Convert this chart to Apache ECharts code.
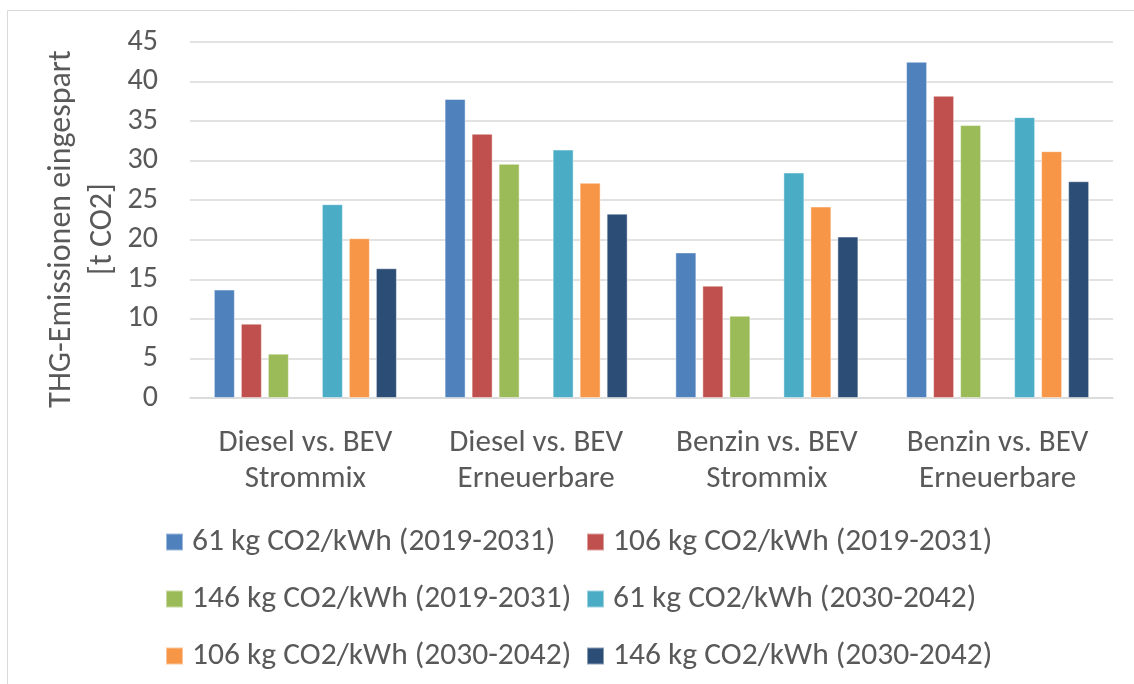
<!DOCTYPE html>
<html>
<head>
<meta charset="utf-8">
<script src="https://cdn.jsdelivr.net/npm/echarts@6/dist/echarts.min.js"></script>
<style>
html,body{margin:0;padding:0;background:#fff;}
#chart{width:1134px;height:684px;}
</style>
</head>
<body>
<div id="chart"></div>
<script>
const categories = ['Diesel vs. BEV\nStrommix', 'Diesel vs. BEV\nErneuerbare', 'Benzin vs. BEV\nStrommix', 'Benzin vs. BEV\nErneuerbare'];
const seriesNames = ['61 kg CO2/kWh (2019-2031)', '106 kg CO2/kWh (2019-2031)', '146 kg CO2/kWh (2019-2031)', '61 kg CO2/kWh (2030-2042)', '106 kg CO2/kWh (2030-2042)', '146 kg CO2/kWh (2030-2042)'];
const s61_2019 = [13.7, 37.8, 18.4, 42.5];
const s106_2019 = [9.4, 33.4, 14.2, 38.2];
const s146_2019 = [5.6, 29.6, 10.4, 34.5];
const s61_2030 = [24.5, 31.4, 28.5, 35.5];
const s106_2030 = [20.2, 27.2, 24.2, 31.2];
const s146_2030 = [16.4, 23.3, 20.4, 27.4];
const emptySlot = [null, null, null, null];
const yTicks = [0, 5, 10, 15, 20, 25, 30, 35, 40, 45];
const yName = 'THG-Emissionen eingespart\n[t CO2]';

const colors = ['#4F81BD', '#C0504D', '#9BBB59', '#4BACC6', '#F79646', '#2C4D75'];
const FONT = "Carlito, 'Liberation Sans', sans-serif";
const TXT = '#595959';

function bar(name, data, color) {
  return {
    name: name, type: 'bar', data: data, barWidth: 21, barGap: '28.6%',
    itemStyle: {color: color, borderColor: 'rgba(255,255,255,0.45)', borderWidth: 1},
    emphasis: {disabled: true}
  };
}

const legendText = {fontSize: 31.5, lineHeight: 30, color: TXT, fontFamily: FONT, padding: [0, 0, 0, 4]};

const chart = echarts.init(document.getElementById('chart'), null, {renderer: 'canvas'});
chart.setOption({
  animation: false,
  textStyle: {fontFamily: FONT},
  graphic: [{
    type: 'rect', shape: {x: 7.5, y: 10.5, width: 1200, height: 1000},
    style: {fill: 'none', stroke: '#D9D9D9', lineWidth: 1}, z: -1
  }, {
    type: 'text', x: 82, y: 229, rotation: Math.PI / 2,
    style: {text: yName, fontSize: 32, lineHeight: 41, fill: TXT, fontFamily: FONT, align: 'center', verticalAlign: 'middle'}
  }],
  grid: {left: 190, right: 21, top: 42, bottom: 286},
  legend: [{
    orient: 'vertical', left: 160, top: 521, itemGap: 25, itemWidth: 17, itemHeight: 17,
    icon: 'rect', data: [seriesNames[0], seriesNames[2], seriesNames[4]],
    textStyle: legendText
  }, {
    orient: 'vertical', left: 581, top: 521, itemGap: 25, itemWidth: 17, itemHeight: 17,
    icon: 'rect', data: [seriesNames[1], seriesNames[3], seriesNames[5]],
    textStyle: legendText
  }],
  xAxis: {
    type: 'category', data: categories,
    axisLine: {lineStyle: {color: '#D9D9D9', width: 1.5}},
    axisTick: {show: false},
    axisLabel: {fontSize: 31, color: TXT, lineHeight: 36, margin: 27, fontFamily: FONT, interval: 0}
  },
  yAxis: {
    type: 'value', min: yTicks[0], max: yTicks[yTicks.length - 1], interval: 5,
    axisLine: {show: false}, axisTick: {show: false},
    axisLabel: {fontSize: 30, color: TXT, margin: 32, fontFamily: FONT},
    splitLine: {lineStyle: {color: '#D9D9D9', width: 1.5}}
  },
  series: [
    bar(seriesNames[0], s61_2019, colors[0]),
    bar(seriesNames[1], s106_2019, colors[1]),
    bar(seriesNames[2], s146_2019, colors[2]),
    bar('', emptySlot, '#ffffff'),
    bar(seriesNames[3], s61_2030, colors[3]),
    bar(seriesNames[4], s106_2030, colors[4]),
    bar(seriesNames[5], s146_2030, colors[5])
  ]
});
</script>
</body>
</html>
